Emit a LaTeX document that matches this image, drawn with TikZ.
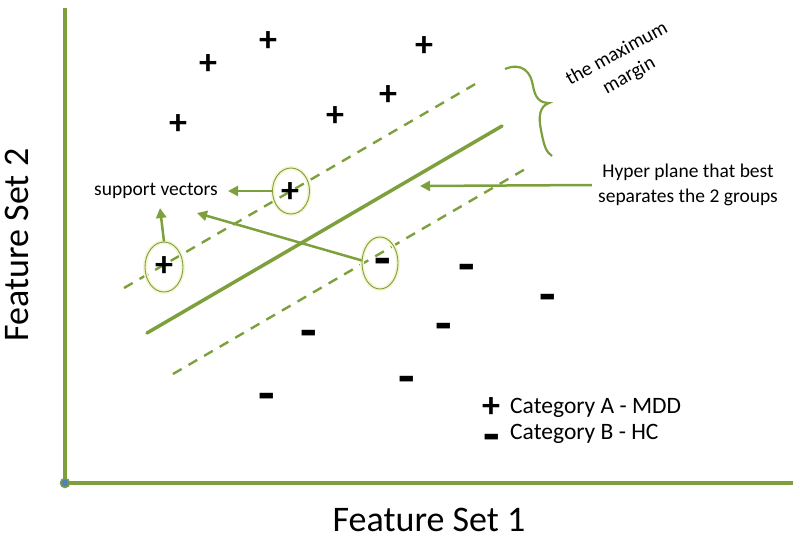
\documentclass[tikz,border=0pt]{standalone}
\usepackage{fontspec}
\setmainfont{Carlito}
\usetikzlibrary{arrows.meta,shapes.geometric}
\definecolor{svmgreen}{RGB}{125,160,60}
\definecolor{dotblue}{RGB}{79,129,189}
\definecolor{glow}{RGB}{245,245,210}
\begin{document}
\begin{tikzpicture}[x=1pt,y=-1pt,
  axis/.style={svmgreen,line width=4pt},
  plane/.style={svmgreen,line width=3.5pt,line cap=round},
  marginline/.style={svmgreen,line width=2.4pt,dash pattern=on 10pt off 8pt},
  pointer/.style={svmgreen,line width=2.5pt,-{Triangle[length=10pt,width=10pt]}},
  svring/.style={draw=svmgreen,line width=0.9pt,ellipse,inner sep=0pt,
    minimum width=37pt,minimum height=46pt,
    preaction={draw=glow,line width=4pt}},
  catA/.style={inner sep=0pt,font=\fontsize{36}{36}\selectfont\bfseries},
  catB/.style={inner sep=0pt,anchor=base,yshift=-15pt,font=\fontsize{36}{36}\selectfont\bfseries},
  lbl/.style={inner sep=2pt},
]
\newcommand{\minusmark}{\scalebox{1.5}[1.5]{-}}
\useasboundingbox (0,0) rectangle (800,544);
% axes
\coordinate (o) at (65,483);
\coordinate (ytop) at (65,8);
\coordinate (xend) at (793,483);
\draw[axis] (ytop) -- (o) -- (xend);
\node[circle,fill=dotblue,draw=svmgreen,line width=1.5pt,minimum size=9pt,inner sep=0pt] (origin) at (o) {};
\node[lbl,rotate=90,font=\fontsize{36}{36}\selectfont] (ylab) at (17,245) {Feature Set 2};
\node[lbl,font=\fontsize{36}{36}\selectfont] (xlab) at (429,520) {Feature Set 1};
% margin lines and hyperplane
\coordinate (u1) at (124,288); \coordinate (u2) at (477,83);
\coordinate (h1) at (147,333); \coordinate (h2) at (502,126);
\coordinate (l1) at (173,374); \coordinate (l2) at (527,168);
\draw[marginline] (u1) -- (u2);
\draw[marginline] (l1) -- (l2);
\draw[plane] (h1) -- (h2);
% support vector rings
\node[svring] (sv1) at (291,191) {};
\node[svring,minimum width=38pt,minimum height=50pt] (sv2) at (164,267) {};
\node[svring,minimum width=36pt,minimum height=52pt] (sv3) at (380,263) {};
% category A points
\node[catA] (p1) at (268,42) {+};
\node[catA] (p2) at (208,65) {+};
\node[catA] (p3) at (424,47) {+};
\node[catA] (p4) at (388,96) {+};
\node[catA] (p5) at (335,117) {+};
\node[catA] (p6) at (178,125) {+};
\node[catA] (p7) at (290,193) {+};
\node[catA] (p8) at (164,267) {+};
% category B points
\node[catB] (n1) at (383,261) {\minusmark};
\node[catB] (n2) at (467,267) {\minusmark};
\node[catB] (n3) at (548,297) {\minusmark};
\node[catB] (n4) at (444,326) {\minusmark};
\node[catB] (n5) at (309,333) {\minusmark};
\node[catB] (n6) at (407,379) {\minusmark};
\node[catB] (n7) at (267,396) {\minusmark};
% labels
\node[lbl,font=\fontsize{19.5}{22}\selectfont] (svl) at (156,191) {support vectors};
\coordinate (tipA) at (228,191);
\coordinate (tipB) at (160,208);
\coordinate (tipC) at (197,213);
\draw[pointer] (sv1.west) -- (tipA);
\draw[pointer] (sv2.north) -- (tipB);
\draw[pointer] (sv3.172) -- (tipC);
\node[lbl,align=center,font=\fontsize{19.5}{25}\selectfont] (hp) at (688,185) {Hyper plane that best\\separates the 2 groups};
\coordinate (tipH) at (420,186);
\draw[pointer] ([xshift=-4pt]hp.west) -- (tipH);
% brace
\draw[svmgreen,line width=2.2pt] (505,69) .. controls (522,62) and (531,72) .. (533,86)
  .. controls (535,98) and (540,103) .. (549,103)
  .. controls (540,106) and (538,116) .. (541,130)
  .. controls (544,146) and (546,152) .. (552,156);
\node[lbl,rotate=29,align=center,font=\fontsize{20}{25}\selectfont] (mm) at (623,65) {the maximum\\margin};
% legend
\node[catA] (lp) at (491,408) {+};
\node[lbl,anchor=west,font=\fontsize{23.5}{26}\selectfont] (la) at (508,408) {Category A - MDD};
\node[catB] (ln) at (492,437) {\minusmark};
\node[lbl,anchor=west,font=\fontsize{23.5}{26}\selectfont] (lb) at (508,434) {Category B - HC};
\end{tikzpicture}
\end{document}
